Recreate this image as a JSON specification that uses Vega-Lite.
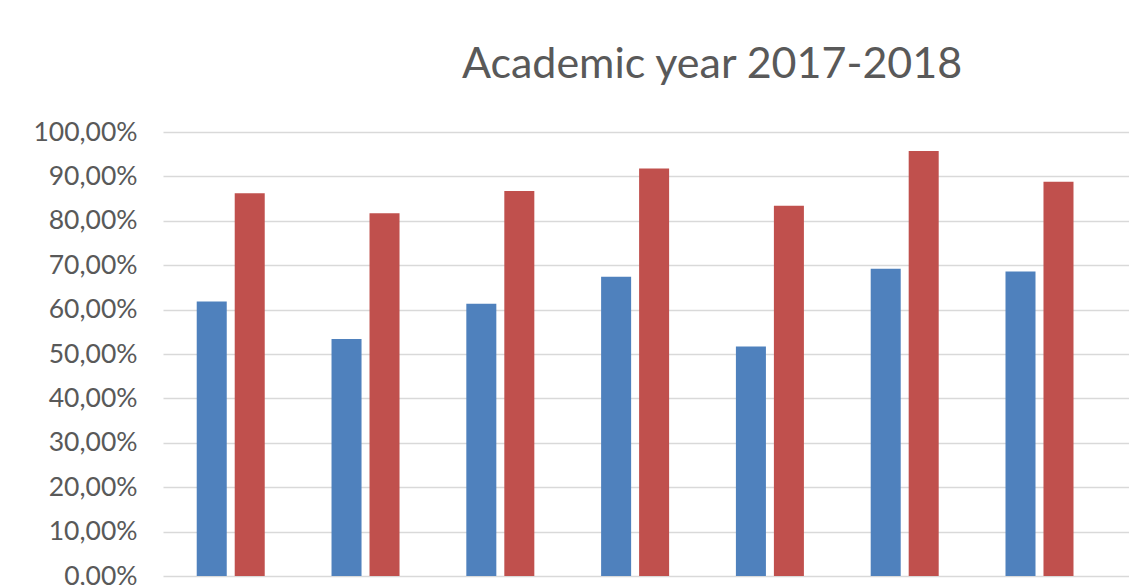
{
  "$schema": "https://vega.github.io/schema/vega-lite/v6.json",
  "width": 966,
  "height": 444,
  "autosize": {"type": "none"},
  "padding": {"left": 163, "top": 132, "right": 0, "bottom": 9},
  "background": "white",
  "title": {
    "text": "Academic year 2017-2018",
    "font": "Lato",
    "fontSize": 43,
    "fontWeight": "normal",
    "color": "#595959",
    "anchor": "middle",
    "frame": "group",
    "dx": 66,
    "dy": 56,
    "baseline": "alphabetic",
    "offset": 54
  },
  "data": {
    "values": [
      {"group": "Group 1", "series": "Series 1", "value": 0.618},
      {"group": "Group 1", "series": "Series 2", "value": 0.862},
      {"group": "Group 2", "series": "Series 1", "value": 0.534},
      {"group": "Group 2", "series": "Series 2", "value": 0.817},
      {"group": "Group 3", "series": "Series 1", "value": 0.613},
      {"group": "Group 3", "series": "Series 2", "value": 0.867},
      {"group": "Group 4", "series": "Series 1", "value": 0.674},
      {"group": "Group 4", "series": "Series 2", "value": 0.918},
      {"group": "Group 5", "series": "Series 1", "value": 0.517},
      {"group": "Group 5", "series": "Series 2", "value": 0.834},
      {"group": "Group 6", "series": "Series 1", "value": 0.692},
      {"group": "Group 6", "series": "Series 2", "value": 0.957},
      {"group": "Group 7", "series": "Series 1", "value": 0.686},
      {"group": "Group 7", "series": "Series 2", "value": 0.888}
    ]
  },
  "mark": {"type": "bar"},
  "encoding": {
    "x": {
      "field": "group",
      "type": "nominal",
      "sort": null,
      "scale": {"paddingInner": 0.4955, "paddingOuter": 0.331, "align": 0.378},
      "axis": null
    },
    "xOffset": {
      "field": "series",
      "type": "nominal",
      "sort": null,
      "scale": {"paddingInner": 0.21, "paddingOuter": 0}
    },
    "y": {
      "field": "value",
      "type": "quantitative",
      "scale": {"domain": [0, 1], "nice": false},
      "axis": {
        "values": [0, 0.1, 0.2, 0.3, 0.4, 0.5, 0.6, 0.7, 0.8, 0.9, 1],
        "labelExpr": "replace(format(datum.value, '.2%'), '.', ',')",
        "labelFont": "Lato",
        "labelFontSize": 26.5,
        "labelColor": "#595959",
        "labelPadding": 26,
        "ticks": false,
        "domain": false,
        "grid": true,
        "gridColor": "#D9D9D9",
        "gridWidth": 1.5,
        "title": null
      }
    },
    "color": {
      "field": "series",
      "type": "nominal",
      "scale": {"range": ["#4F81BD", "#C0504D"]},
      "legend": null
    }
  },
  "config": {"view": {"stroke": null}}
}
